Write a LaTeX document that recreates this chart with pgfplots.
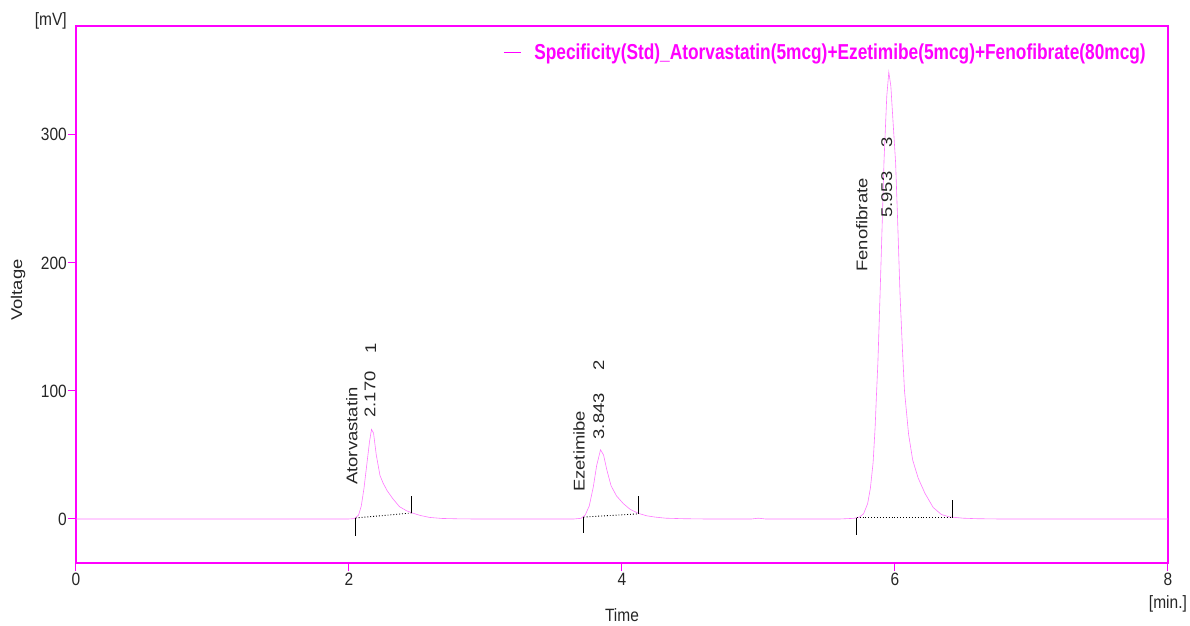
\documentclass[border=0pt]{standalone}
\usepackage{fontspec}
\setmainfont{Liberation Sans}
\usepackage{pgfplots}
\pgfplotsset{compat=1.18}
\definecolor{mag}{RGB}{255,0,255}
\definecolor{curve}{RGB}{255,120,255}
\newcommand{\tickfont}{\fontsize{15.5}{18}\selectfont\color{black!85}}
\newcommand{\labfont}{\fontsize{15.5}{18}\selectfont\color{black!85}}
\newcommand{\pk}[1]{\scalebox{1.19}[1]{#1}}
\begin{document}
\begin{tikzpicture}
\path[use as bounding box] (-76pt,-62pt) rectangle (1114pt,563pt);
\begin{axis}[
  at={(0pt,0pt)}, anchor=south west,
  scale only axis, width=1092pt, height=537pt,
  xmin=0, xmax=8, ymin=-34.4, ymax=385,
  axis line style={draw=mag, line width=1.6pt},
  xtick={0,2,4,6,8}, ytick={0,100,200,300},
  tick align=outside, tick pos=left,
  major tick length=8pt,
  tick style={draw=mag, line width=1pt},
  /pgf/number format/assume math mode=true,
  xticklabel={\scalebox{1}[1.15]{\pgfmathprintnumber{\tick}}},
  yticklabel={\scalebox{1}[1.15]{\pgfmathprintnumber{\tick}}},
  ticklabel style={font=\tickfont},
  yticklabel style={inner sep=1pt},
  xticklabel style={inner sep=2pt},
  legend style={draw=none, fill=none, at={(1,1)}, anchor=east,
    xshift=-22pt, yshift=-26pt, inner sep=0pt, nodes={inner sep=0pt}},
  legend image code/.code={\draw[mag, line width=0.8pt] (0pt,0pt) -- (17pt,0pt);},
  clip mode=individual,
]
\addplot[curve, line width=0.6pt] coordinates {
(0,0) (1.0,0) (2.00,0) (2.04,0.3) (2.07,3) (2.09,10) (2.11,24) (2.13,42) (2.15,60) (2.165,70) (2.18,67) (2.20,50) (2.227,34) (2.25,28) (2.28,22) (2.32,16) (2.37,9.6) (2.42,6.5) (2.46,4.8) (2.52,2.8) (2.59,1.2) (2.68,0.4) (2.80,0.1) (2.9,0)
(3.65,0) (3.70,0.5) (3.73,3) (3.76,10) (3.79,25) (3.815,42) (3.843,54) (3.865,50) (3.89,38) (3.92,26) (3.96,18) (4.01,12) (4.06,7.5) (4.12,4.4) (4.18,2.5) (4.24,1.5) (4.32,0.6) (4.45,0.2) (4.6,0)
(4.95,0) (5.0,0.6) (5.05,0)
(5.60,0) (5.70,0.5) (5.74,1.5) (5.77,4) (5.80,12) (5.82,24) (5.84,44) (5.855,72) (5.865,98) (5.875,122) (5.89,172) (5.905,225) (5.92,280) (5.94,330) (5.955,349) (5.97,338) (5.985,312) (6.005,278) (6.02,232) (6.037,176) (6.055,132) (6.07,100) (6.10,66) (6.13,46) (6.17,32) (6.22,20) (6.28,9) (6.34,3.5) (6.40,1.6) (6.5,0.6) (6.6,0.2) (6.75,0) (8,0)
};
\addlegendentry{\hspace*{13pt}\scalebox{1}[1.25]{\fontsize{17.3}{20}\selectfont\bfseries\color{mag}Specificity(Std)\_Atorvastatin(5mcg)+Ezetimibe(5mcg)+Fenofibrate(80mcg)}}
% integration markers
\addplot[black, line width=0.9pt, forget plot] coordinates {(2.05,0.8) (2.05,-13)};
\addplot[black, line width=0.9pt, forget plot] coordinates {(2.46,4.7) (2.46,18)};
\addplot[black, dotted, line width=0.9pt, forget plot] coordinates {(2.05,0.8) (2.46,4.7)};
\addplot[black, line width=0.9pt, forget plot] coordinates {(3.72,1.5) (3.72,-11)};
\addplot[black, line width=0.9pt, forget plot] coordinates {(4.12,4) (4.12,18)};
\addplot[black, dotted, line width=0.9pt, forget plot] coordinates {(3.72,1.5) (4.12,4)};
\addplot[black, line width=0.9pt, forget plot] coordinates {(5.72,0.8) (5.72,-12.5)};
\addplot[black, line width=0.9pt, forget plot] coordinates {(6.42,0.8) (6.42,15)};
\addplot[black, dotted, line width=0.9pt, forget plot] coordinates {(5.72,0.8) (6.42,0.8)};
% peak labels
\begin{scope}[every node/.style={rotate=90, anchor=west, inner sep=0pt, font=\labfont}]
\node at (axis cs:2.02,26.6) {\pk{Atorvastatin}};
\node at (axis cs:2.154,79) {\pk{2.170}};
\node at (axis cs:2.16,129) {\pk{1}};
\node at (axis cs:3.685,21) {\pk{Ezetimibe}};
\node at (axis cs:3.83,62) {\pk{3.843}};
\node at (axis cs:3.83,116) {\pk{2}};
\node at (axis cs:5.758,193) {\pk{Fenofibrate}};
\node at (axis cs:5.94,235) {\pk{5.953}};
\node at (axis cs:5.94,290) {\pk{3}};
\end{scope}
% axis labels
\node[font=\labfont, anchor=east, inner sep=0pt, xshift=-9pt, yshift=5pt] at (rel axis cs:0,1) {\scalebox{1}[1.15]{[mV]}};
\node[font=\labfont, inner sep=0pt, yshift=-41pt] at (rel axis cs:1,0) {\scalebox{1}[1.15]{[min.]}};
\node[font=\labfont, inner sep=0pt, yshift=-52pt] at (rel axis cs:0.5,0) {\scalebox{1}[1.15]{Time}};
\node[font=\labfont, inner sep=0pt, rotate=90, yshift=58pt] at (rel axis cs:0,0.508) {\pk{Voltage}};
\end{axis}
\end{tikzpicture}
\end{document}
